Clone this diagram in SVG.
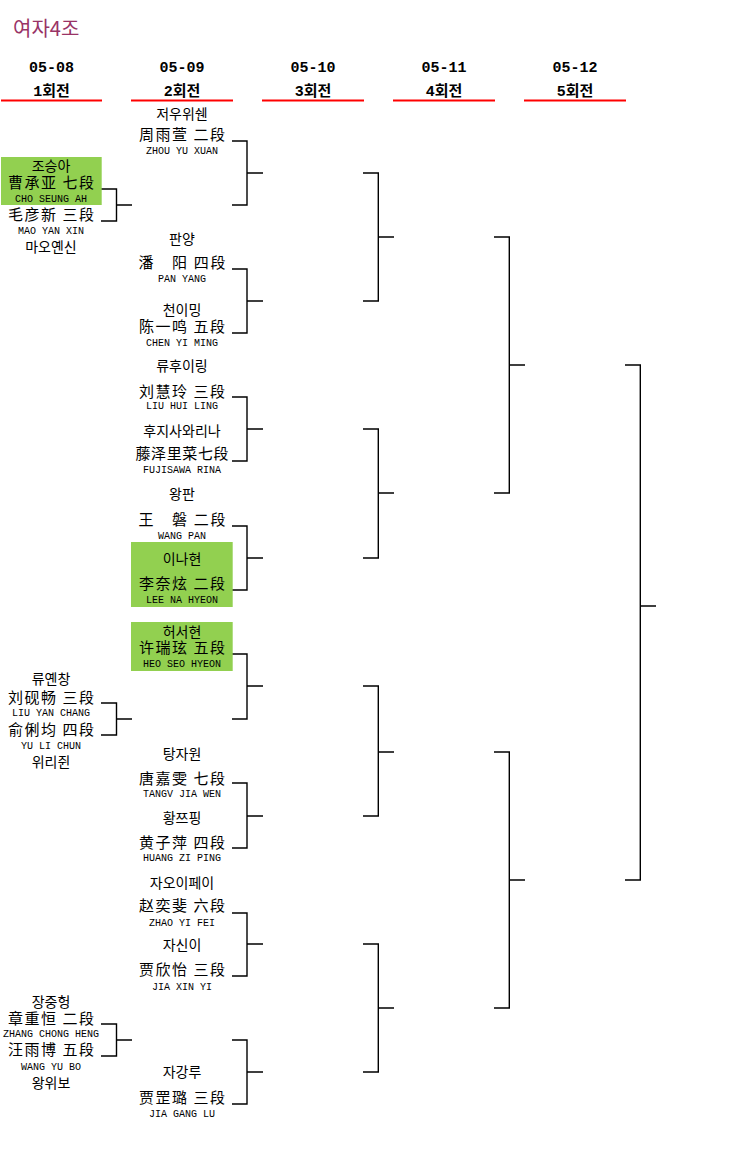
<svg xmlns="http://www.w3.org/2000/svg" width="753" height="1175" viewBox="0 0 753 1175">
<style>
.title{font-family:"Noto Sans CJK KR",sans-serif;font-size:20px;fill:#993366}
.date{font-family:"Liberation Mono",monospace;font-size:15px;font-weight:bold;fill:#000;text-anchor:middle}
.round{font-family:"Liberation Mono","Noto Sans CJK KR",monospace;font-size:15px;font-weight:bold;fill:#000;text-anchor:middle}
.ko{font-family:"Noto Sans CJK KR",sans-serif;font-size:14px;fill:#000;text-anchor:middle}
.zh{font-family:"Noto Sans CJK SC",sans-serif;font-size:15px;fill:#000;text-anchor:middle}
.en{font-family:"Liberation Mono",monospace;font-size:10px;fill:#000;text-anchor:middle}
.hl{fill:#92D050}
.rule{stroke:#FF0000;stroke-width:2;fill:none}
.br{stroke:#000;stroke-width:1.4;fill:none}
</style>
<rect width="753" height="1175" fill="#fff"/>
<text class="title" x="13" y="36">여자4조</text>

<g id="headers">
<text class="date" x="51.5" y="72">05-08</text><text class="round" x="51.5" y="96">1회전</text>
<text class="date" x="182" y="72">05-09</text><text class="round" x="182" y="96">2회전</text>
<text class="date" x="313" y="72">05-10</text><text class="round" x="313" y="96">3회전</text>
<text class="date" x="444" y="72">05-11</text><text class="round" x="444" y="96">4회전</text>
<text class="date" x="575" y="72">05-12</text><text class="round" x="575" y="96">5회전</text>
<path class="rule" d="M1 100.5H102M131 100.5H233M262 100.5H364M393 100.5H495M524 100.5H626"/>
</g>

<g id="connectors">
<path class="br" d="M101 189H116.5V221H101M116.5 205H132"/>
<path class="br" d="M101 703H116.5V735H101M116.5 719H132"/>
<path class="br" d="M101 1024H116.5V1056H101M116.5 1040H132"/>
<path class="br" d="M232 141H247V205H232M247 173H263"/>
<path class="br" d="M232 269H247V333H232M247 301H263"/>
<path class="br" d="M232 397H247V461H232M247 429H263"/>
<path class="br" d="M232 526H247V590H232M247 558H263"/>
<path class="br" d="M232 654H247V719H232M247 686H263"/>
<path class="br" d="M232 783H247V848H232M247 816H263"/>
<path class="br" d="M232 913H247V976H232M247 944H263"/>
<path class="br" d="M232 1040H247V1104H232M247 1072H263"/>
<path class="br" d="M363 173H378.3V301H363M378.3 237H394"/>
<path class="br" d="M363 429H378.3V558H363M378.3 493H394"/>
<path class="br" d="M363 686H378.3V816H363M378.3 752H394"/>
<path class="br" d="M363 944H378.3V1072H363M378.3 1008H394"/>
<path class="br" d="M494 237H509.3V493H494M509.3 365H525"/>
<path class="br" d="M494 752H509.3V1008H494M509.3 880H525"/>
<path class="br" d="M625 365H640.3V880H625M640.3 606H656"/>
</g>

<g id="r1-cho-seung-ah">
<rect class="hl" x="1" y="157" width="100.7" height="48"/>
<text class="ko" x="51" y="171">조승아</text>
<text class="zh" x="51" y="188" textLength="86" lengthAdjust="spacing">曹承亚 七段</text>
<text class="en" x="51" y="201.5">CHO SEUNG AH</text>
</g>
<g id="r1-mao-yan-xin">
<text class="zh" x="51" y="220" textLength="86" lengthAdjust="spacing">毛彦新 三段</text>
<text class="en" x="51" y="233.5">MAO YAN XIN</text>
<text class="ko" x="51" y="251.5">마오옌신</text>
</g>
<g id="r1-liu-yan-chang">
<text class="ko" x="51" y="684">류옌창</text>
<text class="zh" x="51" y="702.5" textLength="86" lengthAdjust="spacing">刘砚畅 三段</text>
<text class="en" x="51" y="715.5">LIU YAN CHANG</text>
</g>
<g id="r1-yu-li-chun">
<text class="zh" x="51" y="735" textLength="86" lengthAdjust="spacing">俞俐均 四段</text>
<text class="en" x="51" y="748.5">YU LI CHUN</text>
<text class="ko" x="51" y="766.5">위리쥔</text>
</g>
<g id="r1-zhang-chong-heng">
<text class="ko" x="51" y="1007">장중헝</text>
<text class="zh" x="51" y="1024" textLength="86" lengthAdjust="spacing">章重恒 二段</text>
<text class="en" x="51" y="1036.5">ZHANG CHONG HENG</text>
</g>
<g id="r1-wang-yu-bo">
<text class="zh" x="51" y="1055" textLength="86" lengthAdjust="spacing">汪雨博 五段</text>
<text class="en" x="51" y="1069.5">WANG YU BO</text>
<text class="ko" x="51" y="1087.5">왕위보</text>
</g>

<g id="r2-zhou-yu-xuan">
<text class="ko" x="182" y="118.5">저우위쉔</text>
<text class="zh" x="182" y="140" textLength="86" lengthAdjust="spacing">周雨萱 二段</text>
<text class="en" x="182" y="153.5">ZHOU YU XUAN</text>
</g>
<g id="r2-pan-yang">
<text class="ko" x="182" y="243.5">판양</text>
<text class="zh" x="182" y="268" textLength="87" lengthAdjust="spacing">潘　阳 四段</text>
<text class="en" x="182" y="281.5">PAN YANG</text>
</g>
<g id="r2-chen-yi-ming">
<text class="ko" x="182" y="314.5">천이밍</text>
<text class="zh" x="182" y="332" textLength="86" lengthAdjust="spacing">陈一鸣 五段</text>
<text class="en" x="182" y="345.5">CHEN YI MING</text>
</g>
<g id="r2-liu-hui-ling">
<text class="ko" x="182" y="370.5">류후이링</text>
<text class="zh" x="182" y="397" textLength="86" lengthAdjust="spacing">刘慧玲 三段</text>
<text class="en" x="182" y="408.5">LIU HUI LING</text>
</g>
<g id="r2-fujisawa-rina">
<text class="ko" x="182" y="435.5">후지사와리나</text>
<text class="zh" x="182" y="459" textLength="93" lengthAdjust="spacing">藤泽里菜七段</text>
<text class="en" x="182" y="472.5">FUJISAWA RINA</text>
</g>
<g id="r2-wang-pan">
<text class="ko" x="182" y="498.5">왕판</text>
<text class="zh" x="182" y="525" textLength="87" lengthAdjust="spacing">王　磐 二段</text>
<text class="en" x="182" y="538.5">WANG PAN</text>
</g>
<g id="r2-lee-na-hyeon">
<rect class="hl" x="131" y="542" width="101.7" height="65"/>
<text class="ko" x="182" y="563.5">이나현</text>
<text class="zh" x="182" y="589" textLength="86" lengthAdjust="spacing">李奈炫 二段</text>
<text class="en" x="182" y="602.5">LEE NA HYEON</text>
</g>
<g id="r2-heo-seo-hyeon">
<rect class="hl" x="131" y="622" width="101.7" height="49"/>
<text class="ko" x="182" y="637">허서현</text>
<text class="zh" x="182" y="653" textLength="86" lengthAdjust="spacing">许瑞玹 五段</text>
<text class="en" x="182" y="666.5">HEO SEO HYEON</text>
</g>
<g id="r2-tang-jia-wen">
<text class="ko" x="182" y="758.5">탕자원</text>
<text class="zh" x="182" y="784" textLength="86" lengthAdjust="spacing">唐嘉雯 七段</text>
<text class="en" x="182" y="796.5">TANGV JIA WEN</text>
</g>
<g id="r2-huang-zi-ping">
<text class="ko" x="182" y="822.5">황쯔핑</text>
<text class="zh" x="182" y="848" textLength="86" lengthAdjust="spacing">黄子萍 四段</text>
<text class="en" x="182" y="860.5">HUANG ZI PING</text>
</g>
<g id="r2-zhao-yi-fei">
<text class="ko" x="182" y="887.5">자오이페이</text>
<text class="zh" x="182" y="911" textLength="86" lengthAdjust="spacing">赵奕斐 六段</text>
<text class="en" x="182" y="925.5">ZHAO YI FEI</text>
</g>
<g id="r2-jia-xin-yi">
<text class="ko" x="182" y="949.5">자신이</text>
<text class="zh" x="182" y="975" textLength="86" lengthAdjust="spacing">贾欣怡 三段</text>
<text class="en" x="182" y="989.5">JIA XIN YI</text>
</g>
<g id="r2-jia-gang-lu">
<text class="ko" x="182" y="1076.5">자강루</text>
<text class="zh" x="182" y="1103" textLength="86" lengthAdjust="spacing">贾罡璐 三段</text>
<text class="en" x="182" y="1116.5">JIA GANG LU</text>
</g>
</svg>
